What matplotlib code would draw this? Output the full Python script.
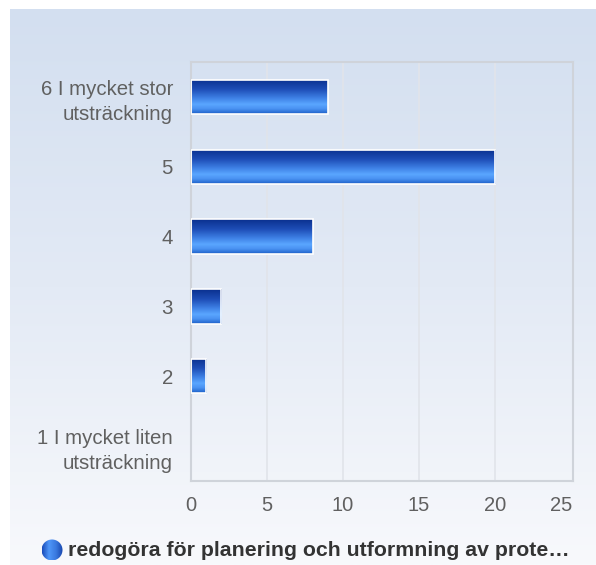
import numpy as np
import matplotlib
matplotlib.use("Agg")
import matplotlib.pyplot as plt
import matplotlib.transforms as mtransforms
from matplotlib.colors import LinearSegmentedColormap
from matplotlib.patches import Circle

plt.rcParams['font.family'] = ['Liberation Sans', 'DejaVu Sans']

# ---- data ----
categories = ["1 I mycket liten\nutsträckning", "2", "3", "4", "5", "6 I mycket stor\nutsträckning"]
values = [0, 1, 2, 8, 20, 9]
xticks = [0, 5, 10, 15, 20, 25]
series_name = "redogöra för planering och utformning av prote…"

W, H = 596, 565
fig = plt.figure(figsize=(W / 100, H / 100), dpi=100)
fig.patch.set_facecolor("white")

# background gradient panel
bg = fig.add_axes([10 / W, 0, 1 - 10 / W, 1 - 9 / H])
bg.set_axis_off()
bg_cmap = LinearSegmentedColormap.from_list("bg", ["#d3dff0", "#e3eaf5", "#f8f9fc"])
grad = np.linspace(0, 1, 256).reshape(-1, 1)
bg.imshow(grad, aspect="auto", cmap=bg_cmap, extent=[0, 1, 0, 1], origin="upper")
bg.set_xlim(0, 1)
bg.set_ylim(0, 1)

# main axes
left, right, top, bottom = 191, 573, 62, 481
ax = fig.add_axes([left / W, 1 - bottom / H, (right - left) / W, (bottom - top) / H])
ax.set_facecolor("none")
ypos = np.arange(len(categories))

for x in xticks[1:-1]:
    ax.axvline(x, color="#e1e4ea", lw=1.2, zorder=0)

bar_cmap = LinearSegmentedColormap.from_list(
    "bar", [(0.0, "#0a2f8e"), (0.3, "#1f4fb8"), (0.55, "#3f82e6"),
            (0.72, "#5aa6ff"), (0.85, "#4a92f2"), (1.0, "#1c5fc6")])
bars = ax.barh(ypos, values, height=0.49, color="none", edgecolor="white", linewidth=1.2, zorder=3)
g = np.linspace(0, 1, 256).reshape(-1, 1)
for b in bars:
    w = b.get_width()
    if w <= 0:
        b.set_linewidth(0)
        continue
    y0 = b.get_y()
    h = b.get_height()
    im = ax.imshow(g, aspect="auto", cmap=bar_cmap, origin="upper",
                   extent=[0, w, y0, y0 + h], zorder=2)
    im.set_clip_path(b)
ax.set_xlim(0, 25.13)
ax.set_ylim(-0.5, len(categories) - 0.5)

ax.set_yticks(ypos)
ax.set_yticklabels(categories, fontsize=14.7, color="#606060", ha="right", linespacing=1.4)
ax.set_xticks(xticks)
ax.set_xticklabels([str(t) for t in xticks], fontsize=14.5, color="#606060")
ax.tick_params(axis="both", length=0)
ax.tick_params(axis="x", pad=11)
ax.tick_params(axis="y", pad=13)
last = ax.get_xticklabels()[-1]
last.set_transform(last.get_transform() + mtransforms.ScaledTranslation(-10 / 100, 0, fig.dpi_scale_trans))
for s in ax.spines.values():
    s.set_color("#cfd3da")
    s.set_linewidth(1.5)

# legend
lax = fig.add_axes([0, 0, 1, 1])
lax.set_axis_off()
lax.set_xlim(0, W)
lax.set_ylim(H, 0)
cx, cy, r = 52, 550, 10.5
leg_cmap = LinearSegmentedColormap.from_list("leg", ["#1a4cba", "#4f96f8", "#3a7ae0", "#1846ad"])
gim = lax.imshow(np.linspace(0, 1, 64).reshape(1, -1), aspect="auto", cmap=leg_cmap,
                 extent=[cx - r, cx + r, cy + r, cy - r])
circ = Circle((cx, cy), r, transform=lax.transData, facecolor="none", edgecolor="none")
lax.add_patch(circ)
gim.set_clip_path(circ)
lax.set_xlim(0, W)
lax.set_ylim(H, 0)
lax.text(68, cy, series_name, fontsize=15.3, fontweight="bold", color="#333333",
         ha="left", va="center")

fig.savefig("out.png", dpi=100)
